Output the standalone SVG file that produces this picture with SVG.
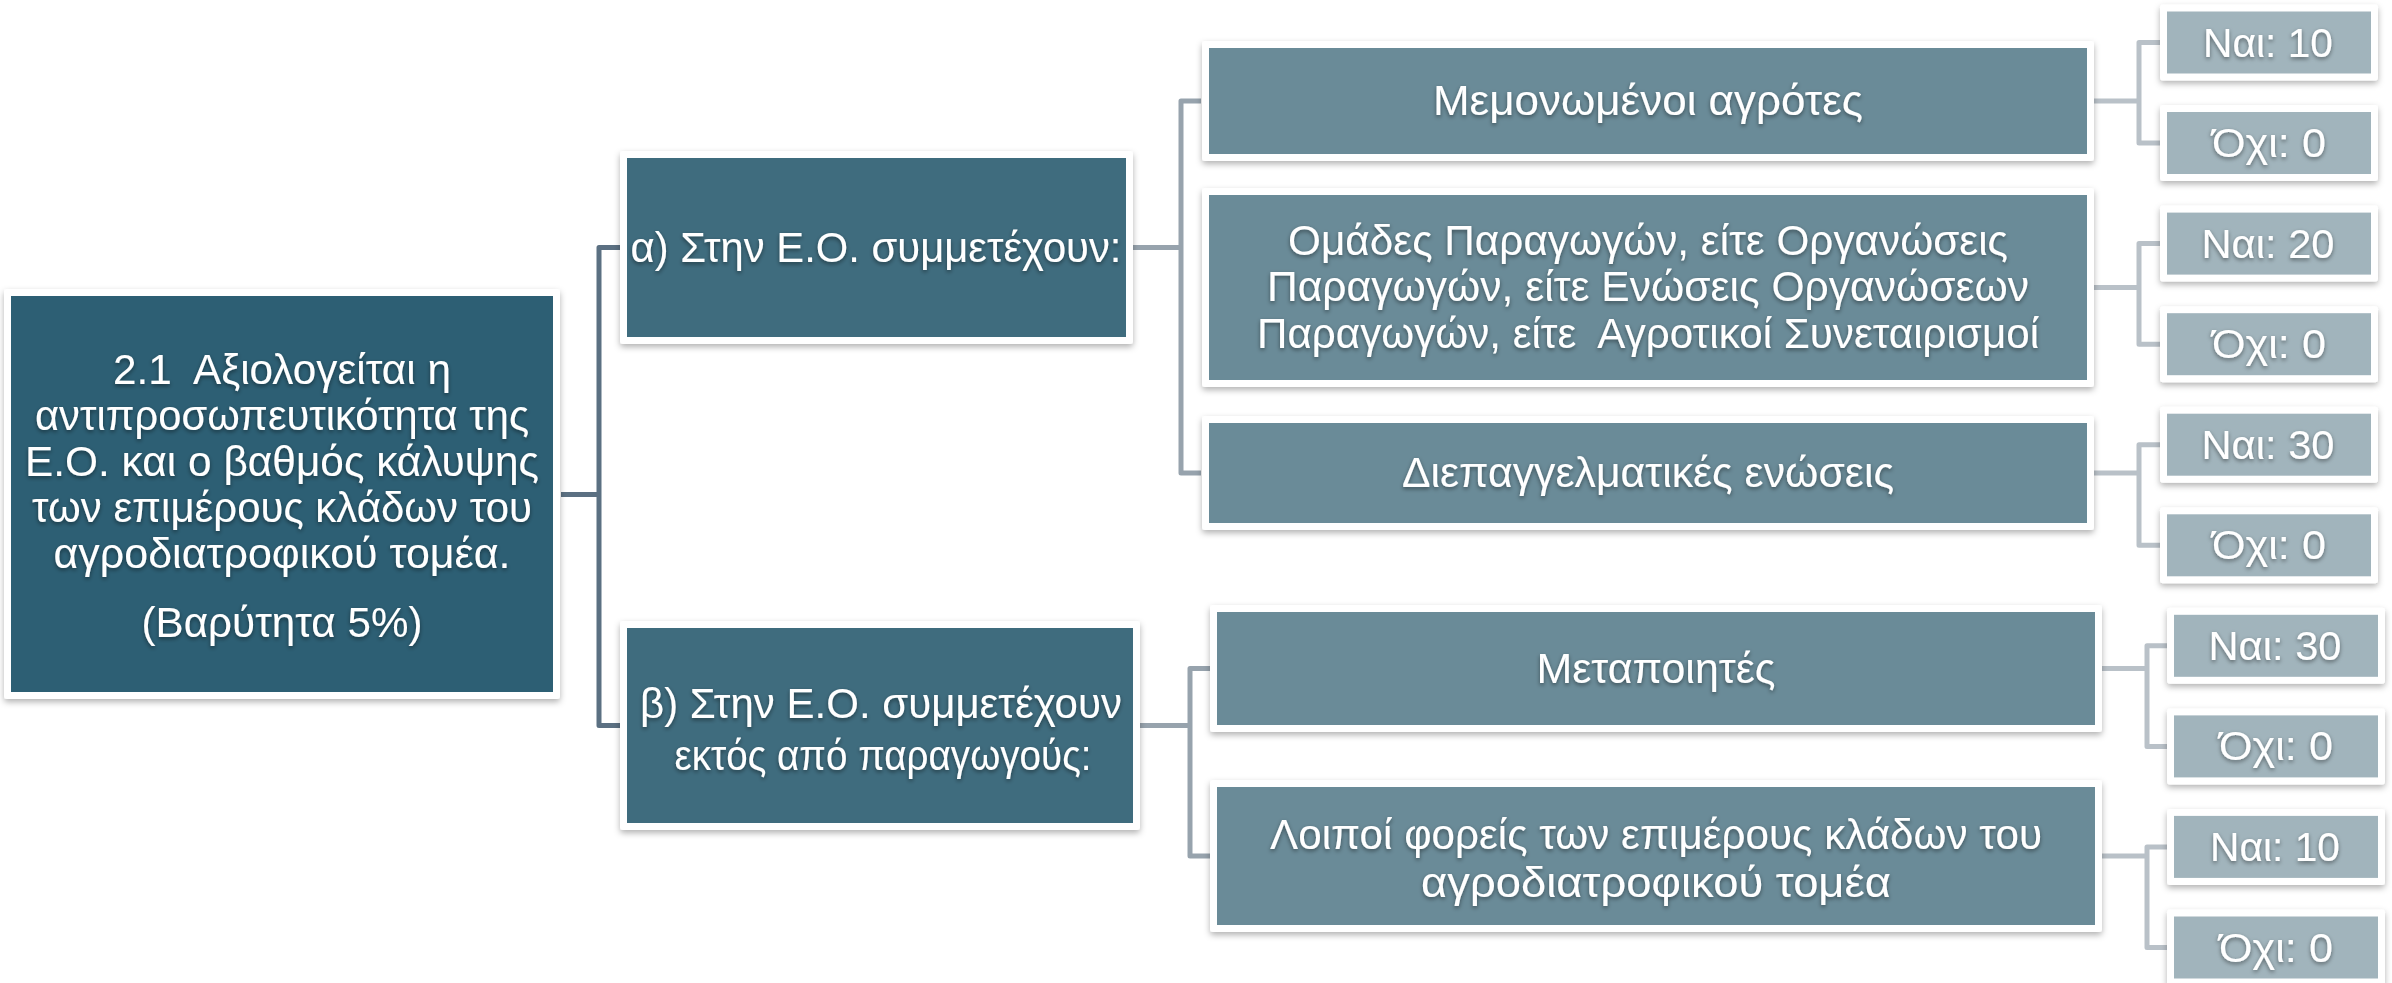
<svg xmlns="http://www.w3.org/2000/svg" width="2392" height="983" viewBox="0 0 2392 983">
<defs>
<filter id="boxShadow" x="-5%" y="-10%" width="110%" height="130%">
<feDropShadow dx="0" dy="3" stdDeviation="3" flood-color="#000" flood-opacity="0.3"/>
</filter>
<filter id="txtShadow" x="-5%" y="-20%" width="110%" height="150%">
<feDropShadow dx="0" dy="2" stdDeviation="2" flood-color="#000" flood-opacity="0.45"/>
</filter>
<style>
.frame{fill:#ffffff;filter:url(#boxShadow);}
.root{fill:#2d5f74;}
.mid{fill:#3f6c7e;}
.l2{fill:#6a8b98;}
.leaf{fill:#a1b4bc;}
text{font-family:"Liberation Sans",Arial,sans-serif;fill:#ffffff;text-anchor:middle;filter:url(#txtShadow);white-space:pre;}
.t{font-size:42px;}
.tl{font-size:40px;}
.c1{fill:none;stroke:#5b7082;stroke-width:5;stroke-linejoin:round;}
.c2{fill:none;stroke:#97a3ad;stroke-width:5;stroke-linejoin:round;}
.c3{fill:none;stroke:#b9c1c8;stroke-width:5;stroke-linejoin:round;}
</style>
</defs>
<rect width="2392" height="983" fill="#ffffff"/>

<g id="connectors">
<path class="c1" d="M561,494.5 H599 M620,247.5 H599 V725.5 H620"/>
<path class="c2" d="M1133,247.5 H1181 M1201,101 H1181 V473 H1201"/>
<path class="c2" d="M1140,725.5 H1190 M1210,668.5 H1190 V856 H1210"/>
<path class="c3" d="M2094,101 H2139 M2160,42.5 H2139 V143 H2160"/>
<path class="c3" d="M2094,287.5 H2139 M2160,243.6 H2139 V344.2 H2160"/>
<path class="c3" d="M2094,473 H2139 M2160,444.7 H2139 V545.3 H2160"/>
<path class="c3" d="M2102,668.5 H2147 M2167,645.8 H2147 V746.4 H2167"/>
<path class="c3" d="M2102,856 H2147 M2167,846.9 H2147 V947.5 H2167"/>
</g>

<g id="root">
<rect class="frame" x="4" y="289" width="556" height="410" rx="3"/>
<rect class="root" x="11" y="296" width="542" height="396"/>
<text class="t" x="282" y="384" textLength="338" lengthAdjust="spacingAndGlyphs">2.1  Αξιολογείται η</text>
<text class="t" x="282" y="430" textLength="494" lengthAdjust="spacingAndGlyphs">αντιπροσωπευτικότητα της</text>
<text class="t" x="282" y="476" textLength="514" lengthAdjust="spacingAndGlyphs">Ε.Ο. και ο βαθμός κάλυψης</text>
<text class="t" x="282" y="522" textLength="500" lengthAdjust="spacingAndGlyphs">των επιμέρους κλάδων του</text>
<text class="t" x="282" y="568" textLength="457" lengthAdjust="spacingAndGlyphs">αγροδιατροφικού τομέα.</text>
<text class="t" x="282" y="637" textLength="281" lengthAdjust="spacingAndGlyphs">(Βαρύτητα 5%)</text>
</g>

<g id="node-a">
<rect class="frame" x="620" y="151" width="513" height="193" rx="3"/>
<rect class="mid" x="627" y="158" width="499" height="179"/>
<text class="t" x="876" y="262" textLength="491" lengthAdjust="spacingAndGlyphs">α) Στην Ε.Ο. συμμετέχουν:</text>
</g>

<g id="node-b">
<rect class="frame" x="620" y="621" width="520" height="209" rx="3"/>
<rect class="mid" x="627" y="628" width="506" height="195"/>
<text class="t" x="881" y="718" textLength="482" lengthAdjust="spacingAndGlyphs">β) Στην Ε.Ο. συμμετέχουν</text>
<text class="t" x="883" y="770" textLength="417" lengthAdjust="spacingAndGlyphs">εκτός από παραγωγούς:</text>
</g>

<g id="node-a1">
<rect class="frame" x="1202" y="41" width="892" height="120" rx="3"/>
<rect class="l2" x="1209" y="48" width="878" height="106"/>
<text class="t" x="1648" y="115" textLength="430" lengthAdjust="spacingAndGlyphs">Μεμονωμένοι αγρότες</text>
</g>

<g id="node-a2">
<rect class="frame" x="1202" y="188" width="892" height="199" rx="3"/>
<rect class="l2" x="1209" y="195" width="878" height="185"/>
<text class="t" x="1648" y="255" textLength="720" lengthAdjust="spacingAndGlyphs">Ομάδες Παραγωγών, είτε Οργανώσεις</text>
<text class="t" x="1648" y="301" textLength="762" lengthAdjust="spacingAndGlyphs">Παραγωγών, είτε Ενώσεις Οργανώσεων</text>
<text class="t" x="1648" y="348" textLength="782" lengthAdjust="spacingAndGlyphs">Παραγωγών, είτε  Αγροτικοί Συνεταιρισμοί</text>
</g>

<g id="node-a3">
<rect class="frame" x="1202" y="416" width="892" height="114" rx="3"/>
<rect class="l2" x="1209" y="423" width="878" height="100"/>
<text class="t" x="1648" y="487" textLength="492" lengthAdjust="spacingAndGlyphs">Διεπαγγελματικές ενώσεις</text>
</g>

<g id="node-b1">
<rect class="frame" x="1210" y="605" width="892" height="127" rx="3"/>
<rect class="l2" x="1217" y="612" width="878" height="113"/>
<text class="t" x="1656" y="683" textLength="239" lengthAdjust="spacingAndGlyphs">Μεταποιητές</text>
</g>

<g id="node-b2">
<rect class="frame" x="1210" y="780" width="892" height="152" rx="3"/>
<rect class="l2" x="1217" y="787" width="878" height="138"/>
<text class="t" x="1656" y="849" textLength="772" lengthAdjust="spacingAndGlyphs">Λοιποί φορείς των επιμέρους κλάδων του</text>
<text class="t" x="1656" y="897" textLength="470" lengthAdjust="spacingAndGlyphs">αγροδιατροφικού τομέα</text>
</g>

<g id="leaf-a1-yes">
<rect class="frame" x="2160" y="4.5" width="218" height="76" rx="3"/>
<rect class="leaf" x="2167" y="11.5" width="204" height="62"/>
<text class="tl" x="2268" y="56.5" textLength="130" lengthAdjust="spacingAndGlyphs">Ναι: 10</text>
</g>
<g id="leaf-a1-no">
<rect class="frame" x="2160" y="105" width="218" height="76" rx="3"/>
<rect class="leaf" x="2167" y="112" width="204" height="62"/>
<text class="tl" x="2269" y="157" textLength="114" lengthAdjust="spacingAndGlyphs">Όχι: 0</text>
</g>
<g id="leaf-a2-yes">
<rect class="frame" x="2160" y="205.6" width="218" height="76" rx="3"/>
<rect class="leaf" x="2167" y="212.6" width="204" height="62"/>
<text class="tl" x="2268" y="257.6" textLength="133" lengthAdjust="spacingAndGlyphs">Ναι: 20</text>
</g>
<g id="leaf-a2-no">
<rect class="frame" x="2160" y="306.2" width="218" height="76" rx="3"/>
<rect class="leaf" x="2167" y="313.2" width="204" height="62"/>
<text class="tl" x="2269" y="358.2" textLength="114" lengthAdjust="spacingAndGlyphs">Όχι: 0</text>
</g>
<g id="leaf-a3-yes">
<rect class="frame" x="2160" y="406.7" width="218" height="76" rx="3"/>
<rect class="leaf" x="2167" y="413.7" width="204" height="62"/>
<text class="tl" x="2268" y="458.7" textLength="133" lengthAdjust="spacingAndGlyphs">Ναι: 30</text>
</g>
<g id="leaf-a3-no">
<rect class="frame" x="2160" y="507.3" width="218" height="76" rx="3"/>
<rect class="leaf" x="2167" y="514.3" width="204" height="62"/>
<text class="tl" x="2269" y="559.3" textLength="114" lengthAdjust="spacingAndGlyphs">Όχι: 0</text>
</g>
<g id="leaf-b1-yes">
<rect class="frame" x="2167" y="607.8" width="218" height="76" rx="3"/>
<rect class="leaf" x="2174" y="614.8" width="204" height="62"/>
<text class="tl" x="2275" y="659.8" textLength="133" lengthAdjust="spacingAndGlyphs">Ναι: 30</text>
</g>
<g id="leaf-b1-no">
<rect class="frame" x="2167" y="708.4" width="218" height="76" rx="3"/>
<rect class="leaf" x="2174" y="715.4" width="204" height="62"/>
<text class="tl" x="2276" y="760.4" textLength="114" lengthAdjust="spacingAndGlyphs">Όχι: 0</text>
</g>
<g id="leaf-b2-yes">
<rect class="frame" x="2167" y="808.9" width="218" height="76" rx="3"/>
<rect class="leaf" x="2174" y="815.9" width="204" height="62"/>
<text class="tl" x="2275" y="860.9" textLength="130" lengthAdjust="spacingAndGlyphs">Ναι: 10</text>
</g>
<g id="leaf-b2-no">
<rect class="frame" x="2167" y="909.5" width="218" height="76" rx="3"/>
<rect class="leaf" x="2174" y="916.5" width="204" height="62"/>
<text class="tl" x="2276" y="961.5" textLength="114" lengthAdjust="spacingAndGlyphs">Όχι: 0</text>
</g>
</svg>
